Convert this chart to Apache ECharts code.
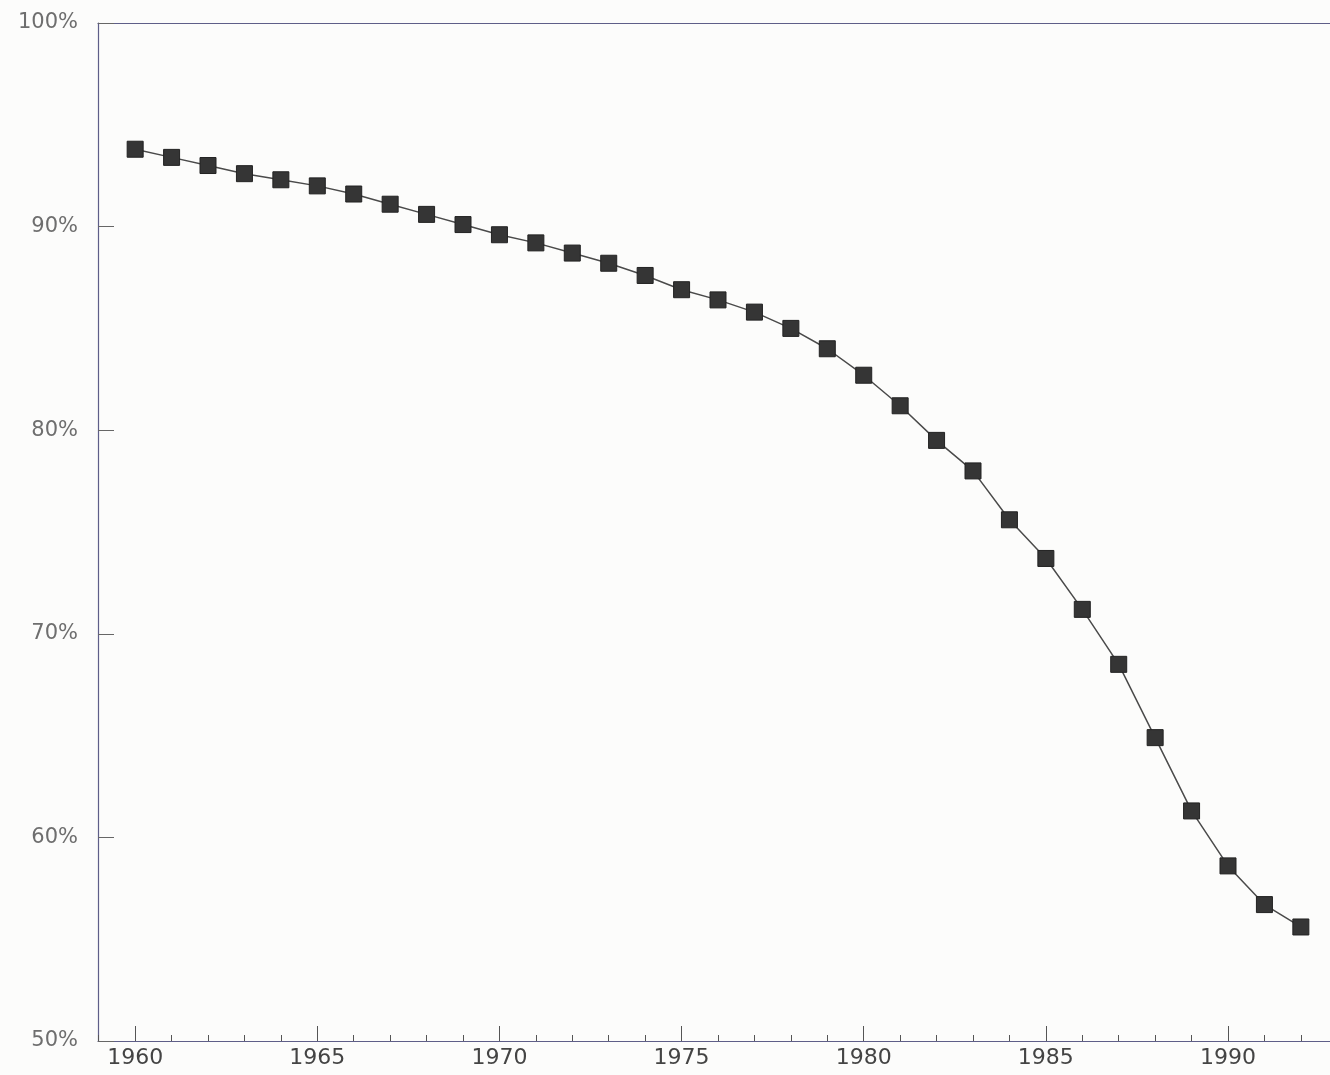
<!DOCTYPE html>
<html>
<head>
<meta charset="utf-8">
<script src="https://cdn.jsdelivr.net/npm/echarts@6/dist/echarts.min.js"></script>
<style>
html,body{margin:0;padding:0;background:#fcfcfb;}
#chart{width:1330px;height:1075px;}
</style>
</head>
<body>
<div id="chart"></div>
<script>
const years = [1960,1961,1962,1963,1964,1965,1966,1967,1968,1969,1970,1971,1972,1973,1974,1975,1976,1977,1978,1979,1980,1981,1982,1983,1984,1985,1986,1987,1988,1989,1990,1991,1992];
const values = [93.8,93.4,93.0,92.6,92.3,92.0,91.6,91.1,90.6,90.1,89.6,89.2,88.7,88.2,87.6,86.9,86.4,85.8,85.0,84.0,82.7,81.2,79.5,78.0,75.6,73.7,71.2,68.5,64.9,61.3,58.6,56.7,55.6];
const xTickLabels = [1960,1965,1970,1975,1980,1985,1990];
const xMinorTicks = [1959,1960,1961,1962,1963,1964,1965,1966,1967,1968,1969,1970,1971,1972,1973,1974,1975,1976,1977,1978,1979,1980,1981,1982,1983,1984,1985,1986,1987,1988,1989,1990,1991,1992];
const yTickLabels = [50,60,70,80,90,100];
const xMin = 1958.98, xMax = 1992.8;

const seriesData = years.map((y, i) => [y, values[i]]);
const axisColor = '#5e5e88';

const chart = echarts.init(document.getElementById('chart'), null, {renderer: 'canvas'});
chart.setOption({
  backgroundColor: '#fcfcfb',
  animation: false,
  grid: {left: 98, top: 23, right: 0, bottom: 34, show: false},
  xAxis: [
    {
      type: 'value', min: xMin, max: xMax, position: 'bottom',
      axisLine: {show: true, lineStyle: {color: axisColor, width: 1.2}},
      axisTick: {show: true, inside: true, length: 15, customValues: xTickLabels, lineStyle: {color: '#555', width: 1}},
      axisLabel: {show: true, customValues: xTickLabels, fontFamily: 'DejaVu Sans', fontSize: 22, color: '#444', margin: 6,
        formatter: v => String(v)},
      splitLine: {show: false}
    },
    {
      type: 'value', min: xMin, max: xMax, position: 'bottom',
      axisLine: {show: false},
      axisTick: {show: true, inside: true, length: 6, customValues: xMinorTicks, lineStyle: {color: '#555', width: 1}},
      axisLabel: {show: false},
      splitLine: {show: false}
    },
    {
      type: 'value', min: xMin, max: xMax, position: 'top',
      axisLine: {show: true, lineStyle: {color: axisColor, width: 1.2}},
      axisTick: {show: false},
      axisLabel: {show: false},
      splitLine: {show: false}
    }
  ],
  yAxis: {
    type: 'value', min: yTickLabels[0], max: yTickLabels[yTickLabels.length - 1], interval: 10,
    axisLine: {show: true, lineStyle: {color: axisColor, width: 1.2}},
    axisTick: {show: true, inside: true, length: 16, lineStyle: {color: '#666', width: 1}},
    axisLabel: {fontFamily: 'DejaVu Sans', fontSize: 21, color: '#6e6e6e', margin: 20, formatter: '{value}%'},
    splitLine: {show: false}
  },
  series: [{
    type: 'line',
    xAxisIndex: 0,
    data: seriesData,
    symbol: 'rect',
    symbolSize: 16,
    itemStyle: {color: '#353535', borderColor: '#222', borderWidth: 1},
    lineStyle: {color: '#4a4a4a', width: 1.5}
  }]
});
</script>
</body>
</html>
